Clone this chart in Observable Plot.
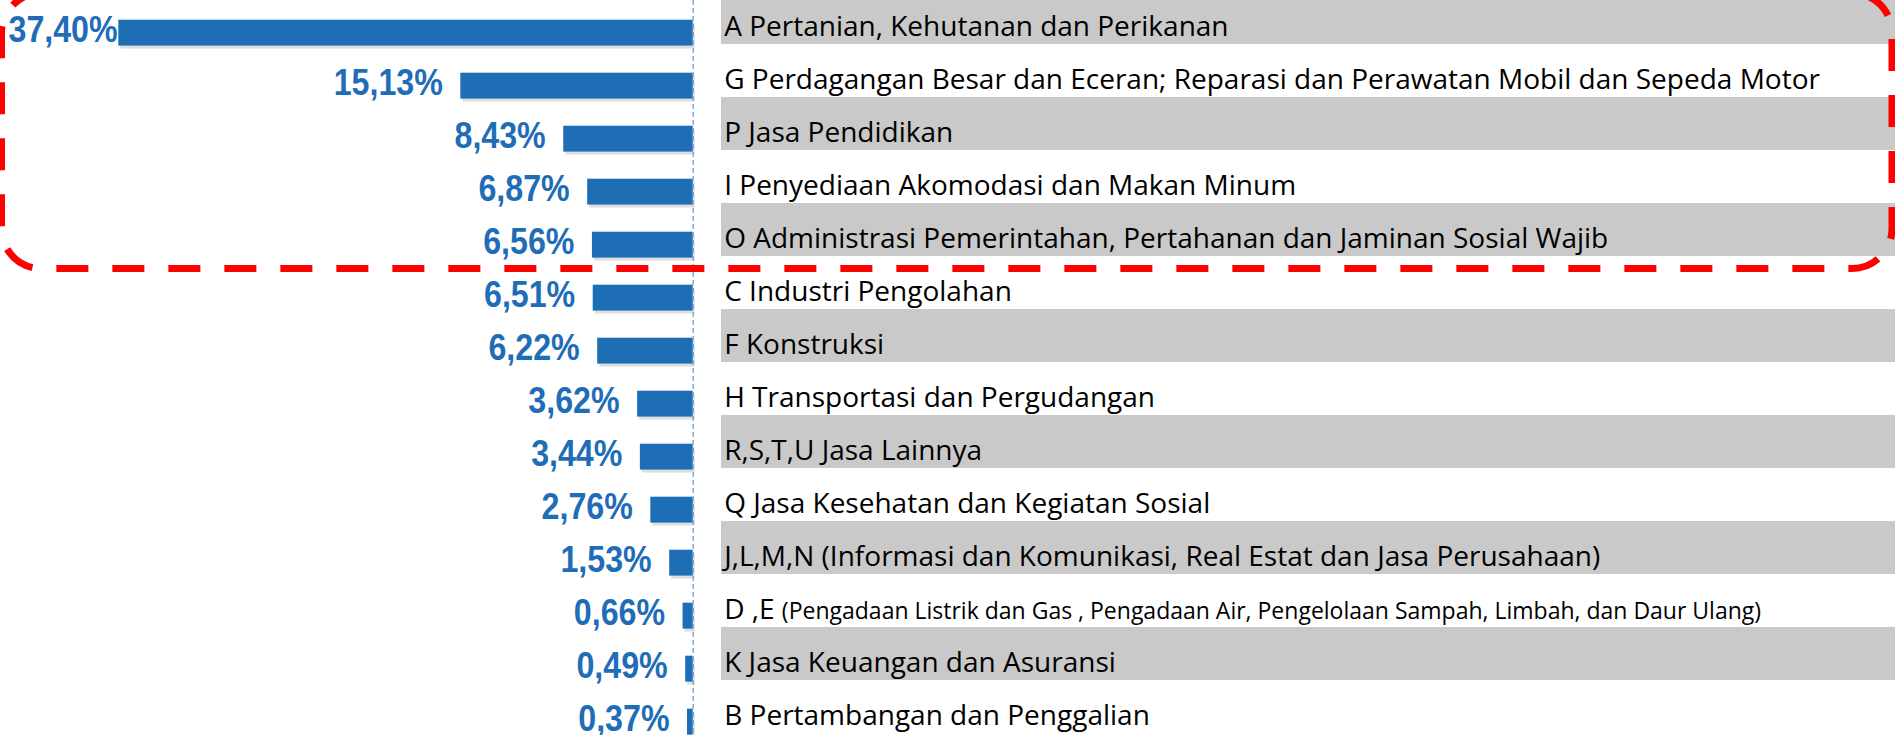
<!DOCTYPE html>
<html>
<head>
<meta charset="utf-8">
<script src="https://cdn.jsdelivr.net/npm/d3@7"></script>
<script src="https://cdn.jsdelivr.net/npm/@observablehq/plot@0.6"></script>
<style>
  html, body { margin: 0; padding: 0; background: #fff; overflow: hidden; }
  #chart svg { display: block; }
</style>
</head>
<body>
<div id="chart"></div>
<script>
// ---- data ----
const categories = [
  "A Pertanian, Kehutanan dan Perikanan",
  "G Perdagangan Besar dan Eceran; Reparasi dan Perawatan Mobil dan Sepeda Motor",
  "P Jasa Pendidikan",
  "I Penyediaan Akomodasi dan Makan Minum",
  "O Administrasi Pemerintahan, Pertahanan dan Jaminan Sosial Wajib",
  "C Industri Pengolahan",
  "F Konstruksi",
  "H Transportasi dan Pergudangan",
  "R,S,T,U Jasa Lainnya",
  "Q Jasa Kesehatan dan Kegiatan Sosial",
  "J,L,M,N (Informasi dan Komunikasi, Real Estat dan Jasa Perusahaan)",
  "D ,E (Pengadaan Listrik dan Gas , Pengadaan Air, Pengelolaan Sampah, Limbah, dan Daur Ulang)",
  "K Jasa Keuangan dan Asuransi",
  "B Pertambangan dan Penggalian"
];
const values = [37.40, 15.13, 8.43, 6.87, 6.56, 6.51, 6.22, 3.62, 3.44, 2.76, 1.53, 0.66, 0.49, 0.37];
// highlighted group (red dashed box): first..last category
const highlightFirst = "A Pertanian, Kehutanan dan Perikanan";
const highlightLast = "O Administrasi Pemerintahan, Pertahanan dan Jaminan Sosial Wajib";
// label whose parenthetical part is set in a smaller type
const smallSuffixPrefix = "D ,E ";

// ---- derived table ----
const rows = categories.map((name, i) => ({name, value: values[i], shaded: i % 2 === 0}));
const maxValue = d3.max(values);
const fmt = d3.formatLocale({decimal: ",", thousands: ".", grouping: [3], currency: ["", ""]}).format(".2f");
const pct = d => fmt(d.value) + "%";

const W = 1895, H = 735;
const barBlue = "#1e6eb5";
const labelBlue = "#1f6db7";
const valueFont = "'Liberation Sans', Arial, sans-serif";
const catFont = "'Open Sans', 'Noto Sans', sans-serif";
const valueCondense = 0.87; // narrow (condensed) look of the value labels

function highlightBox(index, scales, vals, dims) {
  const y = scales.y;
  const bw = y.bandwidth ? y.bandwidth() : (scales.scales && scales.scales.y.bandwidth) || 53;
  const top = y(highlightFirst) + 2;
  const bottom = y(highlightLast) + bw + 12.6;
  const x0 = 1.5, x1 = dims.width - 3;
  return d3.create("svg:rect")
    .attr("x", x0).attr("y", top)
    .attr("width", x1 - x0).attr("height", bottom - top)
    .attr("rx", 40).attr("ry", 40)
    .attr("fill", "none")
    .attr("stroke", "#ff0000")
    .attr("stroke-width", 7)
    .attr("stroke-dasharray", "32,24")
    .attr("stroke-dashoffset", 24.8)
    .node();
}

const chart = Plot.plot({
  width: W,
  height: H,
  marginLeft: 0, marginRight: 0, marginTop: 0, marginBottom: 0,
  x: {domain: [0, maxValue], range: [692.7, 118.3], axis: null},
  y: {domain: categories, range: [-10.4, 733.7], padding: 0, axis: null},
  style: {background: "#fff"},
  marks: [
    // alternating grey label bands
    Plot.cell(rows.filter(d => d.shaded), {y: "name", fill: "#c9c9c9", insetLeft: 721}),
    // bar shadow
    Plot.barX(rows, {x: "value", y: "name", insetTop: 28.7, insetBottom: -1.6, fill: "#000", fillOpacity: 0.13, dx: 2, dy: 3}),
    // bars
    Plot.barX(rows, {x: "value", y: "name", insetTop: 28.7, insetBottom: -1.6, fill: barBlue}),
    // dashed axis at zero
    Plot.ruleX([0], {stroke: "#6d9fd9", strokeWidth: 1.3, strokeDasharray: "5,3"}),
    // value labels
    Plot.text(rows, {
      filter: d => d.value < maxValue,
      x: "value", y: "name", text: pct, textAnchor: "end", dx: -18, dy: 12.5,
      fontFamily: valueFont, fontWeight: "bold", fontSize: 37, fill: labelBlue
    }),
    Plot.text(rows, {
      filter: d => d.value === maxValue,
      y: "name", frameAnchor: "left", text: pct, textAnchor: "start", dx: 8, dy: 12.5,
      fontFamily: valueFont, fontWeight: "bold", fontSize: 37, fill: labelBlue
    }),
    // category labels
    Plot.text(rows, {
      x: 0, y: "name", text: "name", textAnchor: "start", lineAnchor: "bottom", dx: 31, dy: 18,
      fontFamily: catFont, fontSize: 28, fill: "#000"
    }),
    highlightBox
  ]
});

const svg = d3.select(chart);
// set the parenthetical part of the D,E label in smaller type
svg.selectAll("text").each(function() {
  const t = this.textContent;
  if (t.startsWith(smallSuffixPrefix)) {
    const sel = d3.select(this);
    sel.text(null);
    sel.append("tspan").text(smallSuffixPrefix.replace(/ $/, "\u00a0"));
    sel.append("tspan").attr("font-size", 23).text(t.slice(smallSuffixPrefix.length));
  }
});
// condense the percentage labels horizontally around their anchor
svg.selectAll("text").each(function() {
  const t = this.textContent;
  if (!/%$/.test(t)) return;
  const tr = this.getAttribute("transform");
  if (tr) {
    this.setAttribute("transform", tr + ` scale(${valueCondense},1)`);
  } else {
    const x = +this.getAttribute("x") || 0, y = +this.getAttribute("y") || 0;
    this.setAttribute("transform", `translate(${x},${y}) scale(${valueCondense},1) translate(${-x},${-y})`);
  }
});

document.getElementById("chart").appendChild(chart);
</script>
</body>
</html>
